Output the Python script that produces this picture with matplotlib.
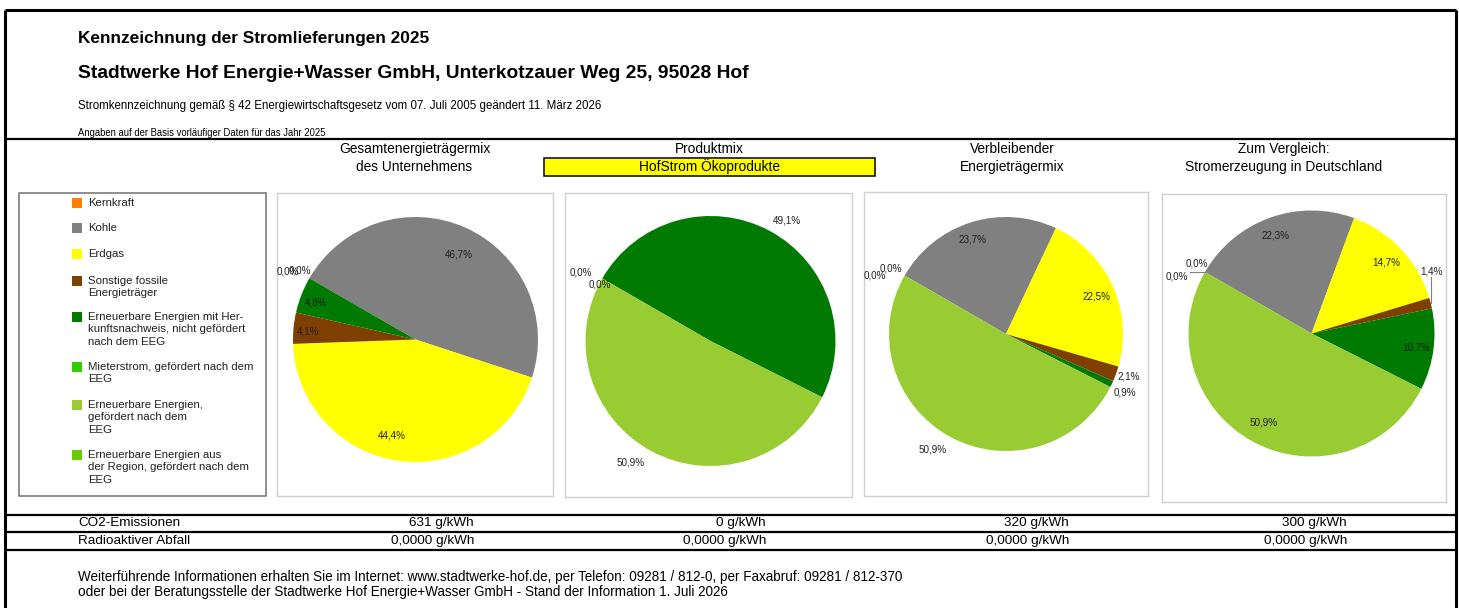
import matplotlib
matplotlib.use("Agg")
import numpy as np
import matplotlib.pyplot as plt
from matplotlib.font_manager import FontProperties
from matplotlib.patches import Rectangle

W, H = 1459, 608
FONT = ["Liberation Sans", "DejaVu Sans"]
plt.rcParams["font.family"] = FONT

# --- data -------------------------------------------------------------
CATEGORIES = [
    "Kernkraft",
    "Kohle",
    "Erdgas",
    "Sonstige fossile\nEnergieträger",
    "Erneuerbare Energien mit Her-\nkunftsnachweis, nicht gefördert\nnach dem EEG",
    "Mieterstrom, gefördert nach dem\nEEG",
    "Erneuerbare Energien,\ngefördert nach dem\nEEG",
    "Erneuerbare Energien aus\nder Region, gefördert nach dem\nEEG",
]
COLORS = ["#FF8000", "#808080", "#FFFF00", "#7F3F00",
          "#007A00", "#33CC00", "#99CC33", "#66CC00"]

# None = field empty in the source sheet (no label)
MIX_COMPANY = [0.0, 46.7, 44.4, 4.1, 4.8, None, None, 0.0]
MIX_PRODUCT = [0.0, None, None, None, 49.1, None, 50.9, 0.0]
MIX_REMAINING = [0.0, 23.7, 22.5, 2.1, 0.9, None, 50.9, 0.0]
MIX_GERMANY = [0.0, 22.3, 14.7, 1.4, 10.7, None, 50.9, 0.0]

PANEL_TITLES = [
    ("Gesamtenergieträgermix", "des Unternehmens"),
    ("Produktmix", "HofStrom Ökoprodukte"),
    ("Verbleibender", "Energieträgermix"),
    ("Zum Vergleich:", "Stromerzeugung in Deutschland"),
]
CO2_G_KWH = [631, 0, 320, 300]
WASTE_G_KWH = [0.0, 0.0, 0.0, 0.0]

TITLE = "Kennzeichnung der Stromlieferungen 2025"
COMPANY = "Stadtwerke Hof Energie+Wasser GmbH, Unterkotzauer Weg 25, 95028 Hof"
SUBTITLE = ("Stromkennzeichnung gemäß § 42 Energiewirtschaftsgesetz vom "
            "07. Juli 2005 geändert 11. März 2026")
NOTE = "Angaben auf der Basis vorläufiger Daten für das Jahr 2025"
FOOTER = [
    "Weiterführende Informationen erhalten Sie im Internet: www.stadtwerke-hof.de, "
    "per Telefon: 09281 / 812-0, per Faxabruf: 09281 / 812-370",
    "oder bei der Beratungsstelle der Stadtwerke Hof Energie+Wasser GmbH - "
    "Stand der Information 1. Juli 2026",
]

# --- layout (pixels) ---------------------------------------------------
PANEL_BOX = [(277, 193, 553, 496), (565, 193, 852, 497),
             (864, 192, 1148, 496), (1162, 194, 1446, 502)]
PIE_CENTER = [(415.5, 339.5), (710.5, 341), (1006, 334), (1311.5, 333.5)]
PIE_RADIUS = [122.5, 125, 117, 123]
TITLE_X = [414.5, 709.5, 1012.5, 1283.5]
VALUE_RIGHT = [474, 766, 1069, 1347]
# per slice: (radius factor, angle shift in deg, leader line)
LABEL_POS = [
    [(1.18, 2, False), (0.78, -3, False), (0.81, -6, False), (0.88, 1, False),
     (0.87, 1, False), None, None, (1.10, -1, False)],
    [(1.17, 2, False), None, None, None, (1.14, -4, False), None,
     (1.16, -5, False), (0.99, 3, False)],
    [(1.23, 6, False), (0.86, 2, False), (0.84, -2, False), (1.11, 1, False),
     (1.13, -1, False), None, (1.17, -4, False), (1.13, 0.5, False)],
    [(1.19, 7, True), (0.85, 0, False), (0.84, 0, False), (1.10, 13, True),
     (0.86, 0, False), None, (0.82, 0, False), (1.09, -1.6, False)],
]
LEGEND_Y = [203, 228, 254, 281, 317, 367, 405, 455]

fig = plt.figure(figsize=(W / 100, H / 100), dpi=100)
renderer = fig.canvas.get_renderer()


def fit_size(text, width_px, weight="normal"):
    fp = FontProperties(family=FONT, size=10, weight=weight)
    w, _, _ = renderer.get_text_width_height_descent(text, fp, ismath=False)
    return 10 * width_px / w


def de(v, digits=1):
    return f"{v:.{digits}f}".replace(".", ",")


fs_title = fit_size(TITLE, 352, "bold")
fs_company = fit_size(COMPANY, 672, "bold")
fs_sub = fit_size(SUBTITLE, 524)
fs_note = fit_size(NOTE, 250)
fs_head = fit_size(PANEL_TITLES[0][0], 153)
fs_legend = fit_size("Mieterstrom, gefördert nach dem", 166)
fs_row = fit_size("CO2-Emissionen", 102)
fs_footer = fit_size(FOOTER[0], 827)
fs_pie = fit_size("46,7%", 28)

bg = fig.add_axes([0, 0, 1, 1])
bg.set_xlim(0, W)
bg.set_ylim(H, 0)
bg.axis("off")

# frame and separators
bg.hlines(10, 5, 1456, color="black", lw=2.2)
bg.vlines([5, 1456], 10, H, color="black", lw=2.2)
bg.hlines([139, 515, 532, 550], 5, 1456, color="black", lw=1.6)

# header
bg.text(78, 38, TITLE, fontsize=fs_title, fontweight="bold", va="center")
bg.text(78, 74, COMPANY, fontsize=fs_company, fontweight="bold", va="center")
bg.text(78, 106, SUBTITLE, fontsize=fs_sub, va="center")
bg.text(78, 133, NOTE, fontsize=fs_note, va="center")

# panel titles
for k, (l1, l2) in enumerate(PANEL_TITLES):
    bg.text(TITLE_X[k], 149, l1, fontsize=fs_head, ha="center", va="center")
    bg.text(TITLE_X[k], 167, l2, fontsize=fs_head, ha="center", va="center")
bg.add_patch(Rectangle((544, 158), 331, 18, facecolor="#FFFF00",
                       edgecolor="black", lw=1.1, zorder=0))

# legend
bg.add_patch(Rectangle((19, 193), 247, 303, fill=False,
                       edgecolor="#707070", lw=1.1))
for i, name in enumerate(CATEGORIES):
    bg.scatter(77, LEGEND_Y[i], marker="s", s=52, color=COLORS[i], linewidths=0)
    for j, line in enumerate(name.split("\n")):
        bg.text(88, LEGEND_Y[i] + j * 12.5, line, fontsize=fs_legend,
                va="center", color="#202020")

# emissions table
bg.text(78, 523, "CO2-Emissionen", fontsize=fs_row, va="center")
bg.text(78, 541, "Radioaktiver Abfall", fontsize=fs_row, va="center")
for k in range(4):
    bg.text(VALUE_RIGHT[k], 523, f"{CO2_G_KWH[k]} g/kWh", fontsize=fs_row,
            ha="right", va="center")
    bg.text(VALUE_RIGHT[k], 541, f"{de(WASTE_G_KWH[k], 4)} g/kWh",
            fontsize=fs_row, ha="right", va="center")

bg.text(78, 577, FOOTER[0], fontsize=fs_footer, va="center")
bg.text(78, 592, FOOTER[1], fontsize=fs_footer, va="center")

# pies
for k, vals in enumerate([MIX_COMPANY, MIX_PRODUCT, MIX_REMAINING, MIX_GERMANY]):
    x0, y0, x1, y1 = PANEL_BOX[k]
    ax = fig.add_axes([x0 / W, 1 - y1 / H, (x1 - x0) / W, (y1 - y0) / H])
    sizes = [0.0 if v is None else v for v in vals]
    cx, cy = PIE_CENTER[k][0], H - PIE_CENTER[k][1]
    r = PIE_RADIUS[k]
    ax.pie(sizes, colors=COLORS, startangle=150, counterclock=False,
           radius=r, center=(cx, cy), frame=True,
           wedgeprops=dict(linewidth=0))
    ax.set_xlim(x0, x1)
    ax.set_ylim(H - y1, H - y0)
    ax.set_aspect("auto")
    ax.set_xticks([])
    ax.set_yticks([])
    for s in ax.spines.values():
        s.set_color("#D0D0D0")
        s.set_linewidth(1)

    total = sum(sizes)
    cum = 0.0
    for i, v in enumerate(vals):
        t1 = 150 - cum / total * 360
        cum += sizes[i]
        t2 = 150 - cum / total * 360
        pos = LABEL_POS[k][i]
        if v is None or pos is None:
            continue
        rf, dang, leader = pos
        mid0 = np.deg2rad((t1 + t2) / 2)
        mid = np.deg2rad((t1 + t2) / 2 + dang)
        lx, ly = cx + rf * r * np.cos(mid), cy + rf * r * np.sin(mid)
        ax.text(lx, ly, de(v) + "%", fontsize=fs_pie, ha="center",
                va="center", color="#202020")
        if leader:
            ex, ey = cx + r * np.cos(mid0), cy + r * np.sin(mid0)
            dx = np.clip(ex - lx, -13, 13)
            dy = np.clip(ey - ly, -6, 6)
            ax.plot([ex, lx + dx], [ey, ly + dy], color="#808080", lw=0.8)

fig.savefig("out.png", dpi=100)
